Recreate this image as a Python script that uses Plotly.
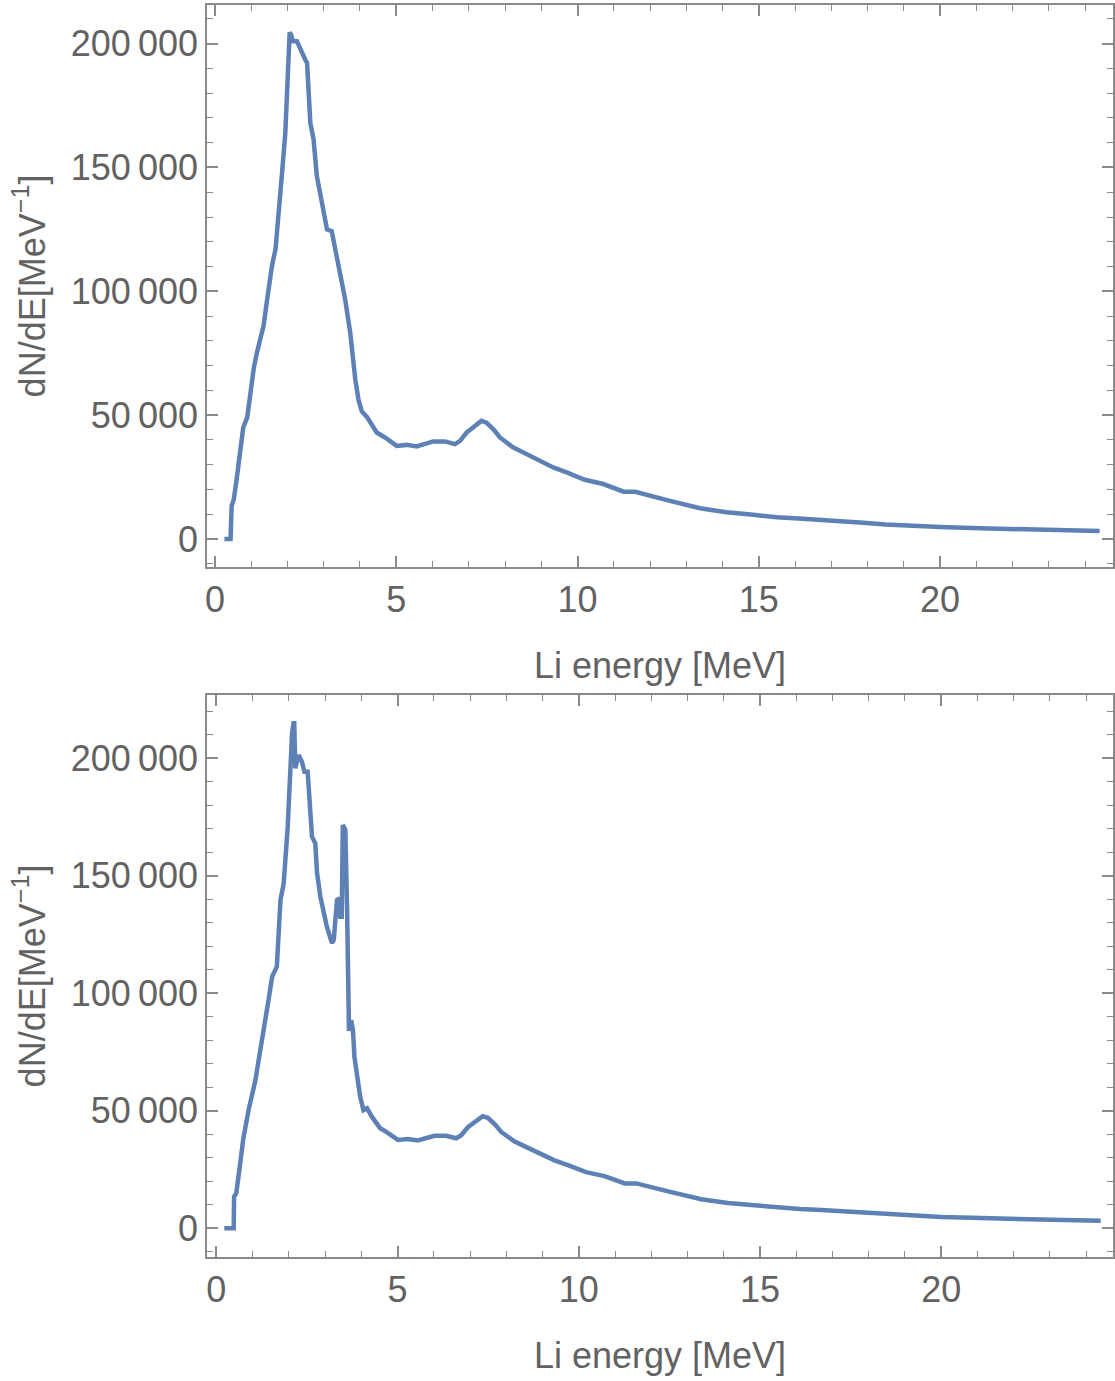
import plotly.graph_objects as go

# ---- data ----
# top panel: spectrum
top_energy = [0.26, 0.43, 0.46, 0.52, 0.61, 0.70, 0.78, 0.89, 0.98, 1.07, 1.16, 1.34, 1.44,
              1.57, 1.67, 1.80, 1.85, 1.94, 2.00, 2.06, 2.10, 2.15, 2.26, 2.35, 2.49, 2.54,
              2.58, 2.63, 2.72, 2.81, 2.95, 3.09, 3.22, 3.59, 3.73, 3.82, 3.87, 3.96, 4.05,
              4.19, 4.46]
top_dnde = [0, 0, 13400, 16100, 25500, 37600, 45000, 49100, 59200, 69000, 75400, 86100, 96800,
            110200, 117000, 137100, 147800, 164000, 190800, 204600, 203500, 201000, 201000,
            197600, 193500, 192200, 177400, 168000, 161300, 146500, 135800, 125000, 124300,
            96800, 83400, 70600, 64500, 56100, 51500, 49300, 43000]

# bottom panel: spectrum (low-energy part, with extra spike)
bot_energy = [0.22, 0.48, 0.49, 0.55, 0.66, 0.74, 0.89, 1.08, 1.16, 1.27, 1.44, 1.54, 1.67,
              1.77, 1.86, 1.97, 2.04, 2.09, 2.13, 2.15, 2.18, 2.27, 2.36, 2.43, 2.52, 2.57,
              2.64, 2.73, 2.78, 2.87, 3.05, 3.19, 3.24, 3.33, 3.40, 3.42, 3.46, 3.49, 3.56,
              3.61, 3.64, 3.66, 3.72, 3.77, 3.81, 3.97, 4.06, 4.16, 4.29, 4.52]
bot_dnde = [0, 0, 13400, 14900, 27700, 37600, 50300, 63100, 70800, 80100, 97100, 107100, 111300,
            139700, 146800, 170900, 196400, 210600, 214900, 214900, 195700, 201400, 198600,
            194300, 194300, 182300, 166600, 163800, 151100, 141100, 128300, 121300, 122700,
            139700, 140400, 132600, 132600, 171600, 169500, 134000, 105700, 84000, 88600,
            84400, 73000, 56000, 50300, 51100, 47500, 42600]

# common high-energy tail (identical in both panels)
tail_energy = [4.69, 5.01, 5.29, 5.56, 6.02, 6.34, 6.62, 6.76, 6.94, 7.12, 7.35, 7.49, 7.70,
               7.86, 8.22, 8.41, 8.78, 9.33, 9.70, 10.20, 10.71, 11.27, 11.59, 12.19, 12.55,
               13.38, 14.11, 14.85, 15.50, 16.10, 16.69, 17.20, 17.79, 18.50, 19.26, 20.00,
               21.10, 22.50, 24.40]
tail_dnde = [41000, 37600, 38000, 37400, 39400, 39400, 38300, 39600, 43000, 45000, 47700, 47000,
             44000, 41000, 37000, 35600, 32900, 28900, 26900, 23900, 22200, 19100, 19100, 16500,
             15400, 12400, 10800, 9800, 8750, 8250, 7800, 7300, 6700, 5850, 5200, 4800,
             4350, 3900, 3200]

x_ticks = [0, 5, 10, 15, 20]
x_ticktext = ["0", "5", "10", "15", "20"]
y_ticks = [0, 50000, 100000, 150000, 200000]
y_ticktext = ["0", "50\u2009000", "100\u2009000", "150\u2009000", "200\u2009000"]

x_title = "Li energy [MeV]"
y_title = "dN/dE[MeV<sup>\u22121</sup>]"

LINE = "#5E81B5"
FRAME = "#8a8a8a"
TEXT = "#626262"
FONT = "Liberation Sans, Arial, sans-serif"

fig = go.Figure()
fig.add_trace(go.Scatter(x=top_energy + tail_energy, y=top_dnde + tail_dnde, mode="lines",
                         line=dict(color=LINE, width=4.5), xaxis="x", yaxis="y",
                         showlegend=False))
fig.add_trace(go.Scatter(x=bot_energy + tail_energy, y=bot_dnde + tail_dnde, mode="lines",
                         line=dict(color=LINE, width=4.5), xaxis="x2", yaxis="y2",
                         showlegend=False))

H_TOTAL = 1252.0  # plot-area span in px (5 .. 1257)


def xaxis_common(rng):
    return dict(range=rng, tickmode="array", tickvals=x_ticks, ticktext=x_ticktext,
                ticks="inside", ticklen=11, tickwidth=1.5, tickcolor=FRAME,
                showline=True, linecolor=FRAME, linewidth=1.5, mirror="ticks",
                showgrid=False, zeroline=False,
                tickfont=dict(family=FONT, size=36, color=TEXT),
                minor=dict(tick0=0, dtick=1, ticks="inside", ticklen=6, tickwidth=1.2,
                           tickcolor=FRAME, showgrid=False))


def yaxis_common(rng, dom):
    return dict(range=rng, domain=dom, tickmode="array", tickvals=y_ticks, ticktext=y_ticktext,
                ticks="inside", ticklen=11, tickwidth=1.5, tickcolor=FRAME,
                showline=True, linecolor=FRAME, linewidth=1.5, mirror="ticks",
                showgrid=False, zeroline=False,
                tickfont=dict(family=FONT, size=36, color=TEXT),
                minor=dict(tick0=0, dtick=10000, ticks="inside", ticklen=6, tickwidth=1.2,
                           tickcolor=FRAME, showgrid=False))


top_dom = [(1257 - 567) / H_TOTAL, 1.0]
bot_dom = [0.0, (1257 - 695) / H_TOTAL]

fig.update_layout(
    width=1115, height=1381,
    margin=dict(l=207, r=0, t=5, b=124),
    paper_bgcolor="white", plot_bgcolor="white",
    xaxis=dict(xaxis_common([-0.22, 24.77]), anchor="y"),
    yaxis=yaxis_common([-11300, 215600], top_dom) | dict(anchor="x"),
    xaxis2=dict(xaxis_common([-0.257, 24.74]), anchor="y2"),
    yaxis2=yaxis_common([-12200, 226900], bot_dom) | dict(anchor="x2"),
    annotations=[
        dict(text=x_title, xref="paper", yref="paper", x=(661 - 207) / 908, y=(1257 - 665) / H_TOTAL,
             xanchor="center", yanchor="middle", showarrow=False,
             font=dict(family=FONT, size=36, color=TEXT)),
        dict(text=x_title, xref="paper", yref="paper", x=(661 - 207) / 908, y=(1257 - 1355) / H_TOTAL,
             xanchor="center", yanchor="middle", showarrow=False,
             font=dict(family=FONT, size=36, color=TEXT)),
        dict(text=y_title, xref="paper", yref="paper", x=(29 - 207) / 908, y=(1257 - 286) / H_TOTAL,
             xanchor="center", yanchor="middle", textangle=-90, showarrow=False,
             font=dict(family=FONT, size=36, color=TEXT)),
        dict(text=y_title, xref="paper", yref="paper", x=(29 - 207) / 908, y=(1257 - 976) / H_TOTAL,
             xanchor="center", yanchor="middle", textangle=-90, showarrow=False,
             font=dict(family=FONT, size=36, color=TEXT)),
    ],
)

fig.write_html("out.html")
